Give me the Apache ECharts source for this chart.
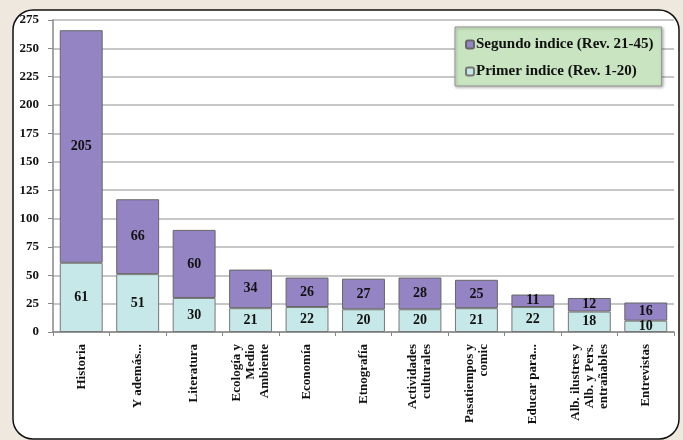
<!DOCTYPE html>
<html>
<head>
<meta charset="utf-8">
<script src="https://cdn.jsdelivr.net/npm/echarts@6/dist/echarts.min.js"></script>
<style>
  html, body { margin: 0; padding: 0; background: #efe8df; }
  #chart { width: 683px; height: 440px; }
</style>
</head>
<body>
<div id="chart"></div>
<script>
const categories = [
  "Historia", "Y además...", "Literatura", "Ecología y\nMedio\nAmbiente", "Economía",
  "Etnografía", "Actividades\nculturales", "Pasatiempos y\ncomic", "Educar para...",
  "Alb. ilustres y\nAlb. y Pers.\nentrañables", "Entrevistas"
];
const primerIndice = [61, 51, 30, 21, 22, 20, 20, 21, 22, 18, 10];
const segundoIndice = [205, 66, 60, 34, 26, 27, 28, 25, 11, 12, 16];
const yTicks = [0, 25, 50, 75, 100, 125, 150, 175, 200, 225, 250, 275];

const serif = "Liberation Serif";
const myChart = echarts.init(document.getElementById("chart"));

const labelStyle = {
  show: true,
  position: "inside",
  color: "#111",
  fontFamily: serif,
  fontWeight: "bold",
  fontSize: 14,
};

myChart.setOption({
  backgroundColor: "#efe8df",
  animation: false,
  graphic: [
    {
      type: "rect",
      z: -10,
      shape: { x: 13, y: 10, width: 666, height: 429, r: 20 },
      style: { fill: "#ffffff", stroke: "#111", lineWidth: 1.5 },
    },
  ],
  legend: {
    orient: "vertical",
    left: 455,
    top: 27,
    padding: [10, 8, 7, 10],
    itemGap: 12,
    itemWidth: 8,
    itemHeight: 8,
    backgroundColor: "#c8e4c0",
    borderColor: "#999",
    borderWidth: 1,
    shadowColor: "rgba(0,0,0,0.3)",
    shadowBlur: 3,
    shadowOffsetX: 1,
    shadowOffsetY: 1,
    data: ["Segundo indice (Rev. 21-45)", "Primer indice (Rev. 1-20)"],
    textStyle: { fontFamily: serif, fontWeight: "bold", fontSize: 15, color: "#111", padding: [0, 0, 0, -3] },
  },
  grid: { left: 53, right: 9, top: 20, bottom: 108 },
  xAxis: {
    type: "category",
    data: categories,
    axisLine: { lineStyle: { color: "#888", width: 1.5 } },
    axisTick: { show: true, length: 4, lineStyle: { color: "#888" } },
    axisLabel: {
      rotate: 90,
      interval: 0,
      margin: 12,
      lineHeight: 14,
      color: "#111",
      fontFamily: serif,
      fontWeight: "bold",
      fontSize: 13,
    },
  },
  yAxis: {
    type: "value",
    min: 0,
    max: 275,
    interval: 25,
    axisLine: { show: true, lineStyle: { color: "#888", width: 1.5 } },
    axisTick: { show: true, length: 5, lineStyle: { color: "#888" } },
    splitLine: { lineStyle: { color: "#b4b4b4", width: 1.5 } },
    axisLabel: {
      margin: 14,
      color: "#111",
      fontFamily: serif,
      fontWeight: "bold",
      fontSize: 13,
      formatter: (v) => (yTicks.includes(v) ? String(v) : ""),
    },
  },
  series: [
    {
      name: "Primer indice (Rev. 1-20)",
      type: "bar",
      stack: "Total",
      barWidth: "76%",
      data: primerIndice,
      itemStyle: { color: "#c6e8e8", borderColor: "#777", borderWidth: 1 },
      label: labelStyle,
    },
    {
      name: "Segundo indice (Rev. 21-45)",
      type: "bar",
      stack: "Total",
      barWidth: "76%",
      data: segundoIndice,
      itemStyle: { color: "#9484c4", borderColor: "#666", borderWidth: 1 },
      label: labelStyle,
    },
  ],
});
window.onresize = function () {
  myChart.resize();
};
</script>
</body>
</html>
